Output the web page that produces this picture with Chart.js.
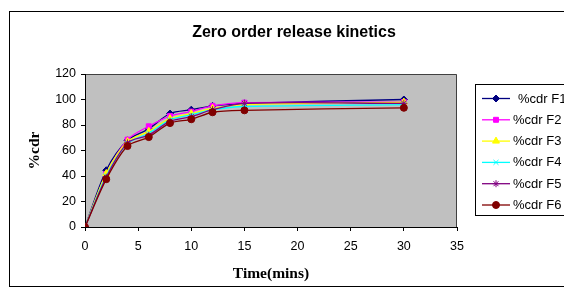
<!DOCTYPE html>
<html>
<head>
<meta charset="utf-8">
<script src="https://cdn.jsdelivr.net/npm/chart.js@4"></script>
<style>
  html, body { margin: 0; padding: 0; background: #ffffff; overflow: hidden; }
  #wrap { width: 564px; height: 290px; }
</style>
</head>
<body>
<div id="wrap"><canvas id="myChart" width="564" height="290"></canvas></div>
<script>
// time points (mins)
var times = [0, 2, 4, 6, 8, 10, 12, 15, 30];

// % cumulative drug release
var cdrF1 = [0, 44.5, 68, 77, 89, 92, 95, 97, 100];
var cdrF2 = [0, 41.5, 68.5, 79, 87, 90.5, 95, 97.5, 98];
var cdrF3 = [0, 42, 67, 75, 85, 89, 93, 96, 98];
var cdrF4 = [0, 40, 65.5, 73.5, 84, 88, 92, 94.5, 96];
var cdrF5 = [0, 39, 66, 72, 83, 86.5, 92, 97, 97];
var cdrF6 = [0, 37.5, 63.5, 70.5, 81.5, 84.5, 90, 91.5, 93.5];

var seriesNames = ['%cdr F1', '%cdr F2', '%cdr F3', '%cdr F4', '%cdr F5', '%cdr F6'];
var seriesValues = [cdrF1, cdrF2, cdrF3, cdrF4, cdrF5, cdrF6];
var seriesColors = ['#000080', '#FF00FF', '#FFFF00', '#00FFFF', '#800080', '#800000'];
var seriesMarkers = ['rectRot', 'rect', 'triangle', 'crossRot', 'star', 'circle'];
var markerSizes = [3.5, 3.5, 4, 3.5, 3.5, 3.5];

function toPoints(values) {
    var pts = [];
    for (var i = 0; i < times.length; i++) {
        pts.push({ x: times[i], y: values[i] });
    }
    return pts;
}

var datasets = [];
for (var i = 0; i < seriesNames.length; i++) {
    datasets.push({
        label: seriesNames[i],
        data: toPoints(seriesValues[i]),
        borderColor: seriesColors[i],
        backgroundColor: seriesColors[i],
        pointBorderColor: seriesColors[i],
        pointBackgroundColor: seriesColors[i],
        pointStyle: seriesMarkers[i],
        pointRadius: markerSizes[i],
        pointBorderWidth: 1,
        borderWidth: 1.3,
        tension: 0.3,
        fill: false,
        order: seriesNames.length - i, // later series drawn on top, like Excel
    });
}

// grey plot area + outer frame
const plotBackground = {
    id: 'plotBackground',
    beforeDraw: function (chart) {
        const ctx = chart.ctx;
        const a = chart.chartArea;
        ctx.save();
        ctx.fillStyle = '#FFFFFF';
        ctx.fillRect(0, 0, chart.width, chart.height);
        ctx.strokeStyle = '#000000';
        ctx.lineWidth = 1;
        ctx.strokeRect(9.5, 11.5, 620, 275);
        ctx.fillStyle = '#C0C0C0';
        ctx.fillRect(a.left, a.top, a.right - a.left, a.bottom - a.top);
        ctx.strokeStyle = '#404040';
        ctx.beginPath();
        ctx.moveTo(a.left, a.top + 0.5);
        ctx.lineTo(a.right - 0.5, a.top + 0.5);
        ctx.lineTo(a.right - 0.5, a.bottom);
        ctx.stroke();
        ctx.restore();
    }
};

// chart title + legend box on the right
const excelLegend = {
    id: 'excelLegend',
    afterDraw: function (chart) {
        const ctx = chart.ctx;
        ctx.save();
        ctx.fillStyle = '#000000';
        ctx.font = 'bold 16px "Liberation Sans", Arial, sans-serif';
        ctx.textAlign = 'center';
        ctx.textBaseline = 'middle';
        ctx.fillText('Zero order release kinetics', 294, 33);

        ctx.fillStyle = '#FFFFFF';
        ctx.fillRect(475.5, 84.5, 120, 131);
        ctx.strokeStyle = '#000000';
        ctx.lineWidth = 1;
        ctx.strokeRect(475.5, 84.5, 120, 131);

        ctx.font = '13px "Liberation Sans", Arial, sans-serif';
        ctx.textAlign = 'left';
        for (let i = 0; i < seriesNames.length; i++) {
            let y = 98.5 + i * 21.3;
            ctx.strokeStyle = seriesColors[i];
            ctx.lineWidth = 1.3;
            ctx.beginPath();
            ctx.moveTo(482, y);
            ctx.lineTo(510, y);
            ctx.stroke();
            ctx.fillStyle = seriesColors[i];
            ctx.strokeStyle = seriesColors[i];
            ctx.lineWidth = 1;
            Chart.helpers.drawPoint(ctx, {
                pointStyle: seriesMarkers[i],
                radius: markerSizes[i],
                rotation: 0,
                borderWidth: 1
            }, 496, y);
            ctx.fillStyle = '#000000';
            ctx.fillText(seriesNames[i], i == 0 ? 518 : 513, y + 0.5);
        }
        ctx.restore();
    }
};

const ctx = document.getElementById('myChart').getContext('2d');
const myChart = new Chart(ctx, {
    type: 'line',
    data: { datasets: datasets },
    plugins: [plotBackground, excelLegend],
    options: {
        responsive: false,
        animation: false,
        events: [],
        layout: {
            padding: { left: 0, top: 74, right: 107, bottom: 0 }
        },
        plugins: {
            legend: { display: false },
            title: { display: false },
            tooltip: { enabled: false },
        },
        scales: {
            x: {
                type: 'linear',
                min: 0,
                max: 35,
                afterFit: function (scale) { scale.height = 63; },
                border: { display: true, color: '#000000', width: 1 },
                grid: {
                    drawOnChartArea: false,
                    drawTicks: true,
                    tickLength: 4,
                    color: '#000000',
                },
                ticks: {
                    stepSize: 5,
                    color: '#000000',
                    padding: 8,
                    maxRotation: 0,
                    font: { family: '"Liberation Sans", Arial, sans-serif', size: 12.5 },
                },
                title: {
                    display: true,
                    text: 'Time(mins)',
                    color: '#000000',
                    font: { family: '"Liberation Serif", "Times New Roman", serif', size: 15.5, weight: 'bold' },
                    padding: { top: 0, bottom: 7 },
                }
            },
            y: {
                min: 0,
                max: 120,
                afterFit: function (scale) { scale.width = 85; },
                border: { display: true, color: '#000000', width: 1 },
                grid: {
                    drawOnChartArea: false,
                    drawTicks: true,
                    tickLength: 4,
                    color: '#000000',
                },
                ticks: {
                    stepSize: 20,
                    color: '#000000',
                    padding: 5,
                    font: { family: '"Liberation Sans", Arial, sans-serif', size: 12.5 },
                },
                title: {
                    display: true,
                    text: '%cdr',
                    color: '#000000',
                    font: { family: '"Liberation Serif", "Times New Roman", serif', size: 15.5, weight: 'bold' },
                    padding: { top: 26, bottom: 0 },
                }
            }
        }
    }
});
</script>
</body>
</html>
